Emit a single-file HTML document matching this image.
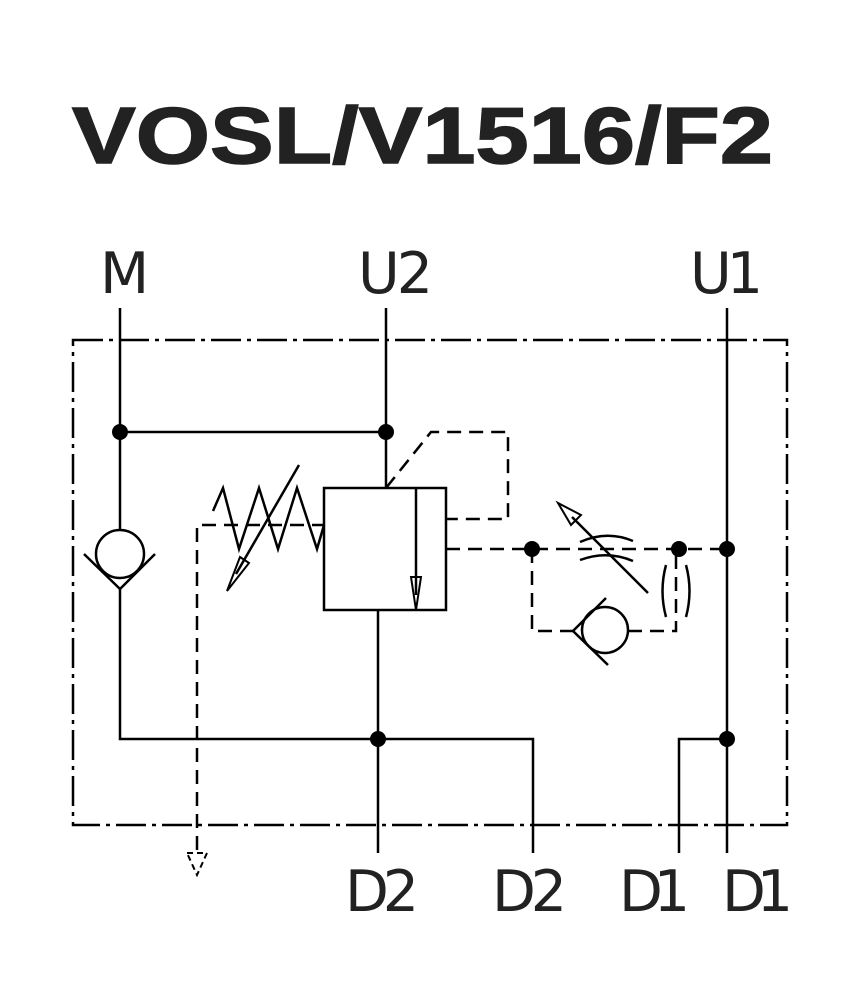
<!DOCTYPE html>
<html><head><meta charset="utf-8"><style>html,body{margin:0;padding:0;background:#fff}svg{display:block}</style></head>
<body>
<svg width="850" height="1000" viewBox="0 0 850 1000" xmlns="http://www.w3.org/2000/svg">
<rect width="850" height="1000" fill="#fff"/>
<text x="72" y="163" font-family="Liberation Sans, sans-serif" font-weight="bold" font-size="80" fill="#222" stroke="#222" stroke-width="1.5" textLength="701" lengthAdjust="spacingAndGlyphs">VOSL/V1516/F2</text>
<g font-family="DejaVu Sans, sans-serif" font-size="57" fill="#222" lengthAdjust="spacing">
<text x="100" y="293" textLength="46">M</text>
<text x="358" y="293" textLength="75">U2</text>
<text x="690" y="293" textLength="73">U1</text>
<text x="345" y="911" textLength="74">D2</text>
<text x="492" y="911" textLength="75">D2</text>
<text x="619" y="911" textLength="71">D1</text>
<text x="722" y="911" textLength="71">D1</text>
</g>
<g fill="none" stroke="#000" stroke-width="2.5">
<rect x="73" y="340" width="714" height="485" stroke-dasharray="30,6,4,6"/>
<polyline points="120,308 120,530"/>
<circle cx="120" cy="554" r="24"/>
<polyline points="84,554 120,589 155,554"/>
<polyline points="120,589 120,739 533,739 533,853"/>
<line x1="120" y1="432" x2="386" y2="432"/>
<line x1="386" y1="308" x2="386" y2="488"/>
<line x1="378" y1="610" x2="378" y2="853"/>
<rect x="324" y="488" width="122" height="122"/>
<line x1="416" y1="488" x2="416" y2="595"/>
<polygon points="411,577 421,577 416,610" stroke-width="2"/>
<polyline points="213,511 223,488 239,549 259,488 278,549 297,488 317,549 324,525"/>
<line x1="299" y1="465" x2="236" y2="574"/>
<polygon points="240,557 249,563 227,591" stroke-width="2"/>
<line x1="727" y1="308" x2="727" y2="853"/>
<polyline points="727,739 679,739 679,853"/>
<g stroke-dasharray="14,8">
<polyline points="386,488 431,432 508,432 508,519 446,519"/>
<polyline points="197,850 197,525 324,525"/>
<line x1="446" y1="549" x2="727" y2="549"/>
<polyline points="532,549 532,631 573,631"/>
<polyline points="628,631 676,631 676,549"/>
</g>
<polygon points="187,853 207,853 197,875" stroke-dasharray="6,4" stroke-width="2"/>
<circle cx="605" cy="630" r="23"/>
<polyline points="606,598 573,631 608,665"/>
<path d="M580,542 Q607,530 633,541"/>
<path d="M580,560 Q607,550 633,561"/>
<path d="M666,565 Q659,591 666,617"/>
<path d="M686,565 Q693,591 686,617"/>
<line x1="648" y1="593" x2="572" y2="517"/>
<polygon points="558,503 581,515 571,525" stroke-width="2"/>
</g>
<g fill="#000">
<circle cx="120" cy="432" r="8"/>
<circle cx="386" cy="432" r="8"/>
<circle cx="378" cy="739" r="8"/>
<circle cx="532" cy="549" r="8"/>
<circle cx="679" cy="549" r="8"/>
<circle cx="727" cy="549" r="8"/>
<circle cx="727" cy="739" r="8"/>
</g>
</svg>
</body></html>
